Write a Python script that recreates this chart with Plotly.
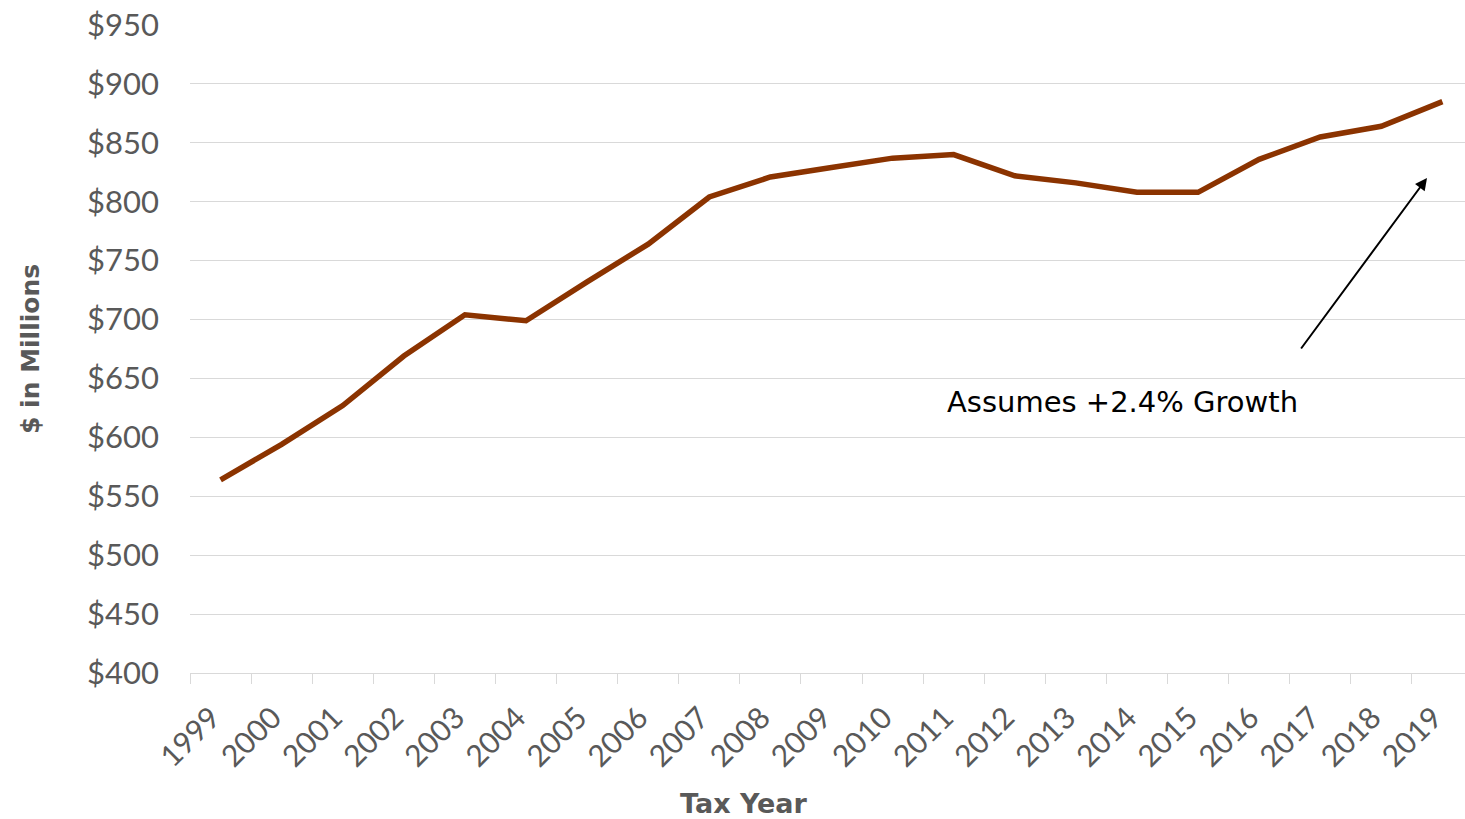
import plotly.graph_objects as go

# Tax years and totals ($ millions)
years = [str(y) for y in range(1999, 2020)]
values = [564, 594, 627, 669, 704, 699, 732, 764, 804, 821, 829, 837,
          840, 822, 816, 808, 808, 836, 855, 864, 885]

y_ticks = list(range(400, 951, 50))
y_labels = [f"${v}" for v in y_ticks]

FONT = "Lato"
WIDE = "DejaVu Sans"
LINE = "#8B3300"
GRID = "#D9D9D9"
TEXT = "#595959"

fig = go.Figure()

fig.add_trace(go.Scatter(
    x=years, y=values, mode="lines",
    line=dict(color=LINE, width=5.5),
    hoverinfo="x+y", showlegend=False,
))

fig.update_layout(
    width=1465, height=819,
    margin=dict(l=190, r=0, t=25, b=146),
    paper_bgcolor="white", plot_bgcolor="white",
    font=dict(family=FONT, color=TEXT),
)

fig.update_xaxes(
    type="category",
    range=[-0.5, 20.37],
    tickson="boundaries",
    ticks="outside", ticklen=10, tickcolor=GRID, tickwidth=1,
    tickangle=-45, ticklabelstandoff=14, ticklabelshift=-9,
    tickfont=dict(family=FONT, size=30, color=TEXT),
    showgrid=False,
    showline=True, linecolor=GRID, linewidth=1,
    zeroline=False,
)

fig.update_yaxes(
    range=[400, 950],
    tickvals=y_ticks, ticktext=y_labels,
    tickfont=dict(family=FONT, size=31, color=TEXT),
    ticks="", ticklabelstandoff=30,
    showgrid=True, gridcolor=GRID, gridwidth=1,
    showline=False, zeroline=False,
)

# Axis titles
fig.add_annotation(
    text="<b>$ in Millions</b>", xref="paper", yref="paper",
    x=0, y=0.5, xshift=-160, xanchor="center", yanchor="middle",
    textangle=-90, showarrow=False,
    font=dict(family=WIDE, size=25, color=TEXT),
)
fig.add_annotation(
    text="<b>Tax Year</b>", xref="paper", yref="paper",
    x=(744 - 190) / 1275, y=-130 / 648, xanchor="center", yanchor="middle",
    showarrow=False,
    font=dict(family=WIDE, size=27, color=TEXT),
)

# Growth note with arrow pointing at the final year
fig.add_annotation(
    text="Assumes +2.4% Growth", xref="paper", yref="paper",
    x=(1122 - 190) / 1275, y=(673 - 402) / 648,
    xanchor="center", yanchor="middle", showarrow=False,
    font=dict(family=WIDE, size=29, color="black"),
)
fig.add_annotation(
    x=(1427 - 190) / 1275, y=(673 - 178) / 648, xref="paper", yref="paper",
    ax=-127, ay=172, axref="pixel", ayref="pixel",
    text="", showarrow=True, arrowhead=2, arrowsize=1.2, arrowwidth=2,
    arrowcolor="black",
)

fig.write_html("out.html")
